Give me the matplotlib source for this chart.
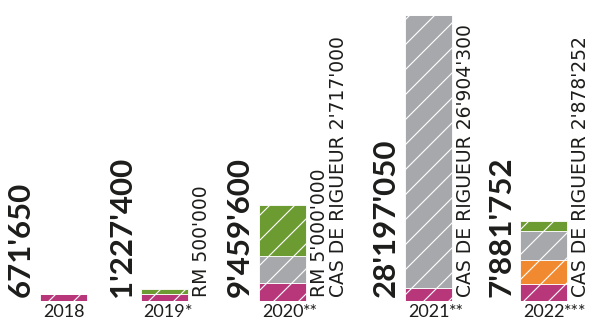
import matplotlib.pyplot as plt
import numpy as np

plt.rcParams['font.family'] = ['Lato', 'DejaVu Sans']
plt.rcParams['hatch.linewidth'] = 1.1

# montants par année
annees = ["2018", "2019", "2020", "2021", "2022"]
etoiles = ["", "*", "**", "**", "***"]
totaux = ["671'650", "1'227'400", "9'459'600", "28'197'050", "7'881'752"]
base = np.array([671650, 727400, 1742600, 1292750, 1653500])
orange = np.array([0, 0, 0, 0, 2350000])
cas_rigueur = np.array([0, 0, 2717000, 26904300, 2878252])
rm = np.array([0, 500000, 5000000, 0, 1000000])
notes = ["", "RM 500'000", "RM 5'000'000\nCAS DE RIGUEUR 2'717'000",
         "CAS DE RIGUEUR 26'904'300", "CAS DE RIGUEUR 2'878'252"]

# position des barres (en pixels de la figure)
centres = [63.5, 164.5, 282.5, 428.5, 543.5]
largeur = 47

# dpi 75 pour des hachures plus espacées ; tailles de police ajustées
DPI = 75
k = 100 / DPI
fig = plt.figure(figsize=(597 / DPI, 320 / DPI), dpi=DPI)
ax = fig.add_axes([0, 19 / 320, 1, 286 / 320])
ax.set_xlim(0, 597)
ax.set_ylim(0, 28197050)
ax.axis('off')

couleurs = ['#b8377a', '#f0892f', '#a7a8ab', '#6b9b31']
bas = np.zeros(len(annees))
for valeurs, c in zip([base, orange, cas_rigueur, rm], couleurs):
    ax.bar(centres, valeurs, largeur, bottom=bas, color=c, edgecolor='white',
           linewidth=0.8, hatch='/')
    bas = bas + valeurs

for i in range(len(annees)):
    gauche = centres[i] - largeur / 2
    droite = centres[i] + largeur / 2
    ax.text(gauche - 5, 350000, totaux[i], rotation=90, ha='right', va='bottom',
            fontsize=22.5 * k, fontweight='bold', color='#1d1d1b')
    if notes[i]:
        ax.text(droite + 4, 350000, notes[i], rotation=90, ha='left', va='bottom',
                fontsize=13.5 * k, family='DejaVu Sans', color='#1d1d1b',
                linespacing=1.0)
    t = ax.text(centres[i], -250000, annees[i], ha='center', va='top',
                fontsize=13 * k, color='#1d1d1b')
    if etoiles[i]:
        ax.annotate(etoiles[i], xy=(1, 1), xycoords=t, ha='left', va='top',
                    fontsize=13 * k, color='#1d1d1b')

fig.savefig('out.png', dpi=DPI)
